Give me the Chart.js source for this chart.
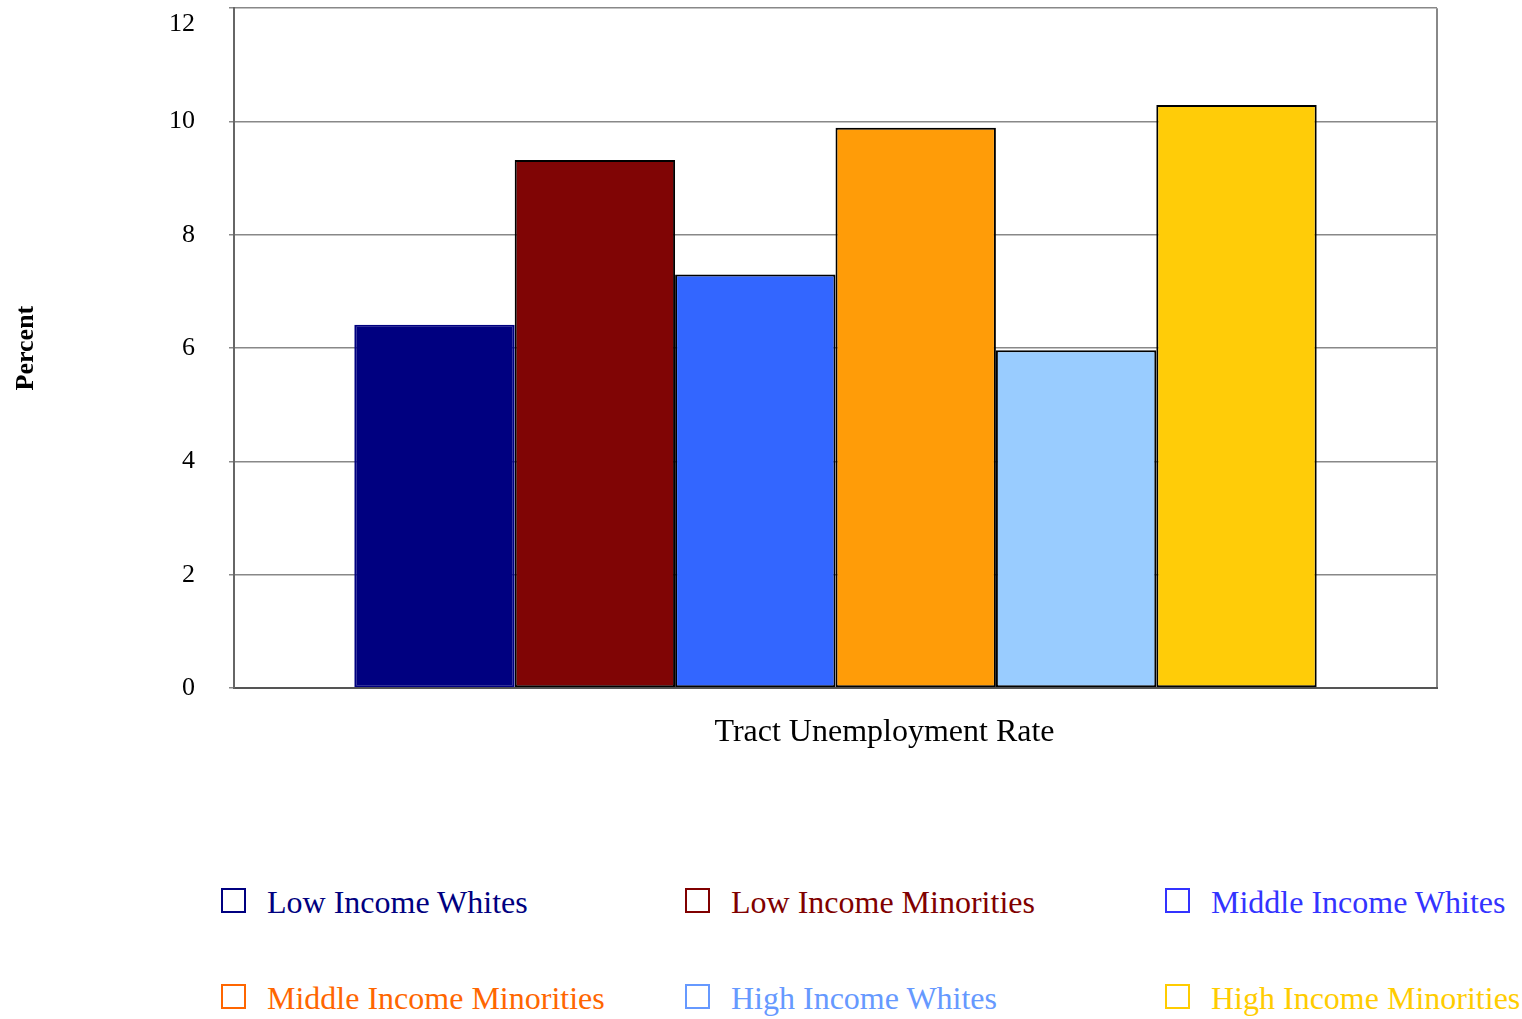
<!DOCTYPE html>
<html>
<head>
<meta charset="utf-8">
<script src="https://cdn.jsdelivr.net/npm/chart.js@4.4.0/dist/chart.umd.min.js"></script>
<style>
  body { margin: 0; background: #fff; width: 1522px; height: 1019px; position: relative; overflow: hidden; }
  #wrap { position: absolute; left: 0; top: -57px; width: 1522px; height: 817px; }
  .leg { position: absolute; font-family: "Liberation Serif", "Times New Roman", serif; font-size: 32px; white-space: nowrap; line-height: 1; }
  .leg span.box { position: absolute; left: 0; top: 2px; width: 25px; height: 25px; border: 2px solid; box-sizing: border-box; }
  .leg span.txt { position: absolute; left: 46px; top: 0; }
</style>
</head>
<body>
<div id="wrap"><canvas id="barChart" width="1522" height="817"></canvas></div>
<div id="legend"></div>
<script>
// Series names and values (percent)
const categories = ['Tract Unemployment Rate'];
const seriesNames = [
  'Low Income Whites', 'Low Income Minorities', 'Middle Income Whites',
  'Middle Income Minorities', 'High Income Whites', 'High Income Minorities'
];
const seriesValues = [6.41, 9.32, 7.30, 9.89, 5.96, 10.29];
const barColors = ['#000080', '#800505', '#3366FF', '#FF9C08', '#99CCFF', '#FFCC08'];
const legendColors = ['#000080', '#800000', '#3333FF', '#FF6600', '#6699FF', '#FFCC00'];
const yTicks = [0, 2, 4, 6, 8, 10, 12];

const datasets = seriesNames.map((name, i) => ({
  label: name,
  data: [seriesValues[i]],
  backgroundColor: barColors[i],
  borderColor: i === 0 ? barColors[i] : '#000',
  borderWidth: 2,
  borderSkipped: false
}));

const serif = '"Liberation Serif", "Times New Roman", serif';

// x axis title sits a bit right of the plot centre in the original
const xTitlePlugin = {
  id: 'xTitle',
  afterDraw(chart) {
    const ctx = chart.ctx;
    const area = chart.chartArea;
    ctx.save();
    ctx.font = '32px ' + serif;
    ctx.fillStyle = '#000';
    ctx.textAlign = 'center';
    ctx.textBaseline = 'middle';
    ctx.fillText(categories[0], (area.left + area.right) / 2 + 49, area.bottom + 45);
    ctx.restore();
  }
};

new Chart(document.getElementById('barChart').getContext('2d'), {
  type: 'bar',
  data: { labels: categories, datasets: datasets },
  plugins: [xTitlePlugin],
  options: {
    responsive: false,
    animation: false,
    categoryPercentage: 0.8,
    barPercentage: 1.0,
    layout: { padding: { top: 7, right: 85, left: 0, bottom: 0 } },
    plugins: { legend: { display: false }, tooltip: { enabled: false } },
    scales: {
      x: {
        grid: { display: true, color: '#888', lineWidth: 2, drawTicks: false },
        border: { display: true, color: '#555', width: 2 },
        ticks: { display: false },
        afterFit: s => { s.height = 72; }
      },
      y: {
        min: 0, max: 12,
        afterBuildTicks: s => { s.ticks = yTicks.map(v => ({ value: v })); },
        grid: { color: '#888', lineWidth: 1.5, tickLength: 5 },
        border: { display: true, color: '#666', width: 2 },
        ticks: {
          color: '#000', padding: 34, font: { family: serif, size: 26 },
          // top label is pushed down below the plot edge in the original
          callback: v => v === 12 ? ['', String(v)] : String(v)
        },
        title: { display: true, text: 'Percent', color: '#000',
                 font: { family: serif, size: 26, weight: 'bold' }, padding: { top: 11, bottom: 0 } },
        afterFit: s => { s.width = 234; }
      }
    }
  }
});

// HTML legend in a 3 x 2 grid
const legendCols = [221, 685, 1165];
const legendRows = [886, 982];
const legendEl = document.getElementById('legend');
seriesNames.forEach((name, i) => {
  const d = document.createElement('div');
  d.className = 'leg';
  d.style.left = legendCols[i % 3] + 'px';
  d.style.top = legendRows[Math.floor(i / 3)] + 'px';
  d.style.color = legendColors[i];
  d.innerHTML = '<span class="box" style="border-color:' + legendColors[i] + '"></span><span class="txt">' + name + '</span>';
  legendEl.appendChild(d);
});
</script>
</body>
</html>
